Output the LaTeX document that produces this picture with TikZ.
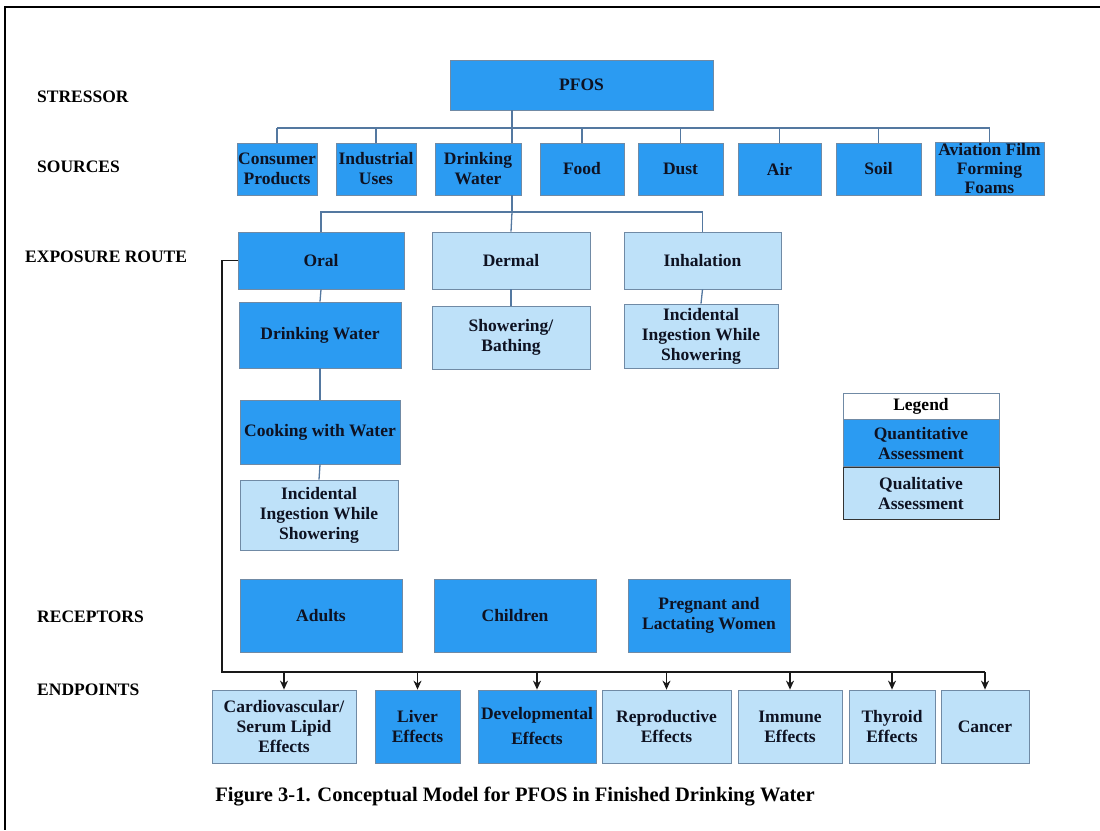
\documentclass[tikz,border=0pt]{standalone}
\usepackage{fontspec}
\setmainfont{Liberation Serif}[BoldFont={Liberation Serif Bold}]
\usetikzlibrary{arrows.meta}
\definecolor{quantblue}{RGB}{43,155,242}
\definecolor{qualblue}{RGB}{190,225,249}
\definecolor{edgegray}{RGB}{112,138,165}
\definecolor{linkblue}{RGB}{84,120,160}
\definecolor{inkblue}{RGB}{14,18,34}

\begin{document}
\begin{tikzpicture}[x=1pt,y=-1pt,
    box/.style={draw=edgegray, line width=0.8pt, align=center, inner sep=1pt,
      text=inkblue, font=\fontsize{17.5}{20}\selectfont\bfseries},
    quant/.style={box, fill=quantblue},
    qual/.style={box, fill=qualblue},
    sect/.style={anchor=west, inner sep=0pt, font=\fontsize{17.5}{20}\selectfont\bfseries},
    link/.style={draw=linkblue, line width=1.3pt},
    feed/.style={draw=black!90, line width=1.3pt, -{Stealth[length=9pt,width=8pt]}}]
  \useasboundingbox (0,0) rectangle (1100,830);
  \draw[line width=2pt] (1100,7) -- (5,7) -- (5,830);

  % row labels
  \node[sect] (lstr) at (37,97) {STRESSOR};
  \node[sect] (lsrc) at (37,167) {SOURCES};
  \node[sect] (lexp) at (25,257) {EXPOSURE ROUTE};
  \node[sect] (lrec) at (37,617) {RECEPTORS};
  \node[sect] (lend) at (37,690) {ENDPOINTS};

  % stressor and sources
  \node[quant, minimum width=263, minimum height=50] (pfos) at (581.5,85) {PFOS};
  \node[quant, minimum width=80, minimum height=52] (cons) at (277,169) {Consumer\\Products};
  \node[quant, minimum width=80, minimum height=52] (indu) at (376,169) {Industrial\\Uses};
  \node[quant, minimum width=86, minimum height=52] (dwat) at (478,169) {Drinking\\Water};
  \node[quant, minimum width=84, minimum height=52] (food) at (582,169) {Food};
  \node[quant, minimum width=85, minimum height=52] (dust) at (680.5,169) {Dust};
  \node[quant, minimum width=83, minimum height=52] (air) at (779.5,169) {Air};
  \node[quant, minimum width=85, minimum height=52] (soil) at (878.5,169) {Soil};
  \node[quant, minimum width=109, minimum height=52, font=\fontsize{17.5}{19}\selectfont\bfseries]
    (avia) at (989.5,169) {Aviation Film\\Forming\\Foams};

  \coordinate (trunk) at (512,128);
  \coordinate (ebus) at (512,212);
  \draw[link] (trunk |- pfos.south) -- (trunk);
  \draw[link] (cons.north |- trunk) -- (avia.north |- trunk);
  \foreach \n in {cons,indu,food,dust,air,soil,avia}
    \draw[link] (\n.north |- trunk) -- (\n.north);
  \draw[link] (trunk) -- (trunk |- dwat.north);
  \draw[link] (ebus |- dwat.south) -- (ebus);

  % exposure routes
  \node[quant, minimum width=166, minimum height=57] (oral) at (321,260.5) {Oral};
  \node[qual, minimum width=158, minimum height=57] (derm) at (511,260.5) {Dermal};
  \node[qual, minimum width=157, minimum height=57] (inha) at (702.5,260.5) {Inhalation};
  \draw[link] (oral.north) |- (ebus) -| (inha.north);
  \draw[link] (ebus) -- (derm.north);

  \node[quant, minimum width=162, minimum height=66] (odwt) at (320,335) {Drinking Water};
  \node[qual, minimum width=158, minimum height=63] (show) at (511,337.5) {Showering/\\Bathing};
  \node[qual, minimum width=154, minimum height=64] (iinh) at (701,336) {Incidental\\Ingestion While\\Showering};
  \node[quant, minimum width=160, minimum height=64] (cook) at (320,432) {Cooking with Water};
  \node[qual, minimum width=158, minimum height=70] (iora) at (319,515) {Incidental\\Ingestion While\\Showering};
  \draw[link] (oral.south) -- (odwt.north);
  \draw[link] (derm.south) -- (show.north);
  \draw[link] (inha.south) -- (iinh.north);
  \draw[link] (odwt.south) -- (cook.north);
  \draw[link] (cook.south) -- (iora.north);

  % legend
  \node[box, fill=white, text=black, minimum width=156, minimum height=26] (lgnd) at (921,406) {Legend};
  \node[quant, anchor=north, minimum width=156, minimum height=47] (lqnt) at (lgnd.south) {Quantitative\\Assessment};
  \node[qual, draw=black!80, anchor=north, minimum width=156, minimum height=52] (lqlt) at (lqnt.south) {Qualitative\\Assessment};

  % receptors
  \node[quant, minimum width=162, minimum height=73] (adul) at (321,615.5) {Adults};
  \node[quant, minimum width=162, minimum height=73] (chil) at (515,615.5) {Children};
  \node[quant, minimum width=162, minimum height=73] (preg) at (709,615.5) {Pregnant and\\Lactating Women};

  % endpoints
  \node[qual, minimum width=144, minimum height=73] (card) at (284,726.5) {Cardiovascular/\\Serum Lipid\\Effects};
  \node[quant, minimum width=85, minimum height=73] (livr) at (417.5,726.5) {Liver\\Effects};
  \node[quant, minimum width=118, minimum height=73] (devl) at (537,726.5) {Developmental\\[5pt]Effects};
  \node[qual, minimum width=129, minimum height=73] (repr) at (666.5,726.5) {Reproductive\\Effects};
  \node[qual, minimum width=104, minimum height=73] (immu) at (790,726.5) {Immune\\Effects};
  \node[qual, minimum width=86, minimum height=73] (thyr) at (892,726.5) {Thyroid\\Effects};
  \node[qual, minimum width=88, minimum height=73] (canc) at (985,726.5) {Cancer};

  \coordinate (ebar) at (222,672);
  \draw[draw=black!90, line width=1.3pt] (oral.west) -- (oral.west -| ebar) -- (ebar) -- (canc.north |- ebar);
  \foreach \n in {card,livr,devl,repr,immu,thyr,canc}
    \draw[feed] (\n.north |- ebar) -- (\n.north);

  \node[inner sep=0pt, font=\fontsize{20.5}{24}\selectfont\bfseries] (capt) at (515,797)
    {Figure 3-1. Conceptual Model for PFOS in Finished Drinking Water};
\end{tikzpicture}
\end{document}
